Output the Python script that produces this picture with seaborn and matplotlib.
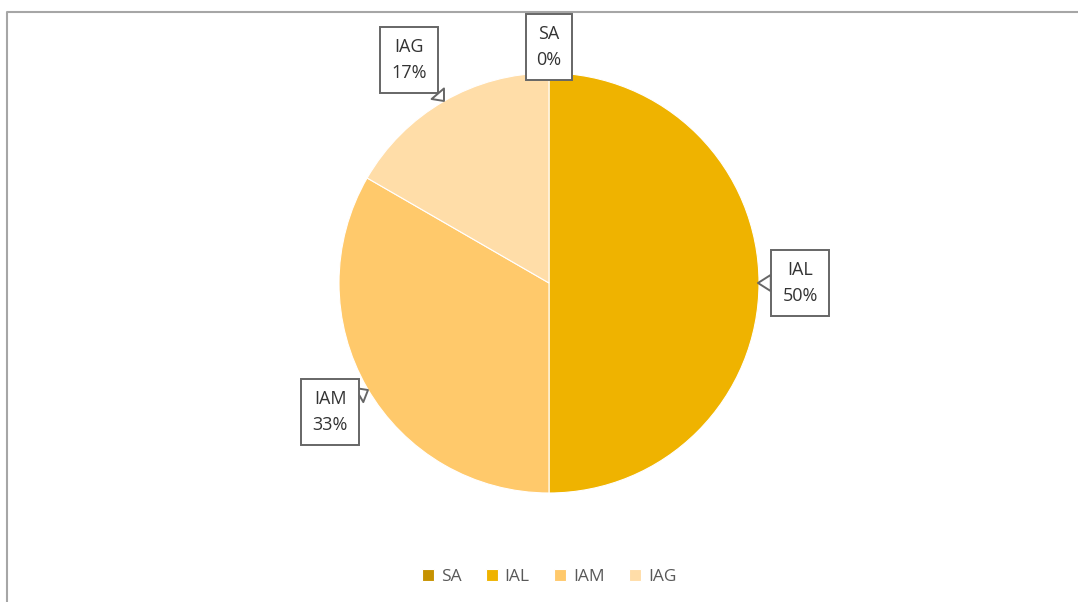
import matplotlib
matplotlib.use("Agg")
import matplotlib.pyplot as plt
import seaborn as sns

labels = ["SA", "IAL", "IAM", "IAG"]
values = [0, 3, 2, 1]
pct_labels = ["0%", "50%", "33%", "17%"]
colors = ["#C69200", "#EFB300", "#FFC96B", "#FFDDA8"]

# callout box centres and where the pointer touches the pie (pixel space, y from top)
box_pos = {"SA": (549, 47), "IAL": (800, 283), "IAM": (330, 412), "IAG": (409, 60)}
tip_pos = {"SA": (549, 80), "IAL": (758, 283), "IAM": (368, 390), "IAG": (444, 101)}

sns.set_theme(style="white")
plt.rcParams["font.family"] = ["Open Sans", "DejaVu Sans"]

W, H = 1078, 602
fig = plt.figure(figsize=(W / 100, H / 100), dpi=100)
ax = fig.add_axes([0, 0, 1, 1])
ax.set_xlim(0, W)
ax.set_ylim(0, H)
ax.set_aspect("equal")
ax.axis("off")

# chart border (top and left edges only visible)
ax.plot([7, 7, W], [0, H - 12, H - 12], color="#A6A6A6", lw=1.5, solid_capstyle="butt")

wedges, _ = ax.pie(
    values,
    colors=sns.color_palette(colors),
    startangle=90,
    counterclock=False,
    center=(549, H - 283),
    radius=210,
    wedgeprops={"edgecolor": "white", "linewidth": 0.8},
)
ax.set_xlim(0, W)
ax.set_ylim(0, H)

for lab, pct in zip(labels, pct_labels):
    bx, by = box_pos[lab]
    tx, ty = tip_pos[lab]
    ax.annotate(
        f"{lab}\n{pct}",
        xy=(tx, H - ty),
        xytext=(bx, H - by),
        ha="center",
        va="center",
        fontsize=13,
        color="#333333",
        linespacing=1.6,
        bbox=dict(boxstyle="square,pad=0.6", fc="white", ec="#666666", lw=1.4),
        arrowprops=dict(
            arrowstyle="wedge,tail_width=0.9,shrink_factor=0.5",
            fc="white",
            ec="#666666",
            lw=1.4,
            shrinkA=0,
            shrinkB=0,
        ),
    )

leg = ax.legend(
    wedges,
    labels,
    loc="center",
    bbox_to_anchor=(549 / W, 1 - 577 / H),
    ncol=4,
    frameon=False,
    fontsize=12.5,
    handlelength=0.7,
    handleheight=0.7,
    handletextpad=0.4,
    columnspacing=1.4,
)
for t in leg.get_texts():
    t.set_color("#595959")

fig.savefig("out.png", dpi=100)
